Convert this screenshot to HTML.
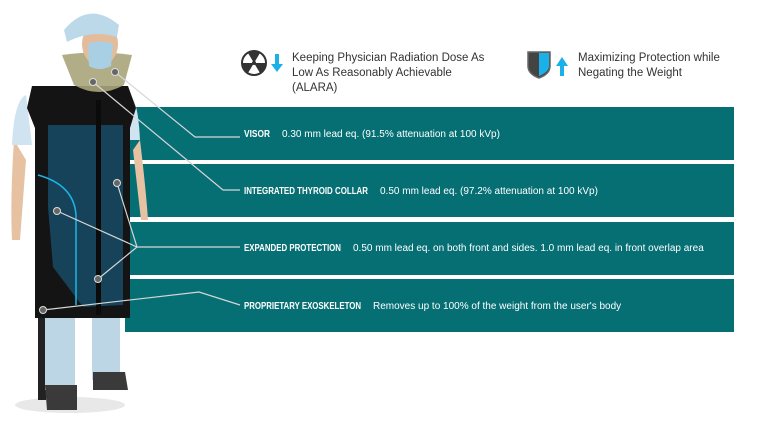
<!DOCTYPE html>
<html><head><meta charset="utf-8"><style>
html,body{margin:0;padding:0;background:#fff;width:768px;height:424px;overflow:hidden}
svg{display:block}
.lab{font-family:"Liberation Sans",sans-serif;font-weight:bold;font-size:10px;fill:#fff}
.desc{font-family:"Liberation Sans",sans-serif;font-size:10px;fill:#fff}
.top{font-family:"Liberation Sans",sans-serif;font-size:11.5px;fill:#333}
</style></head><body>
<svg width="768" height="424" viewBox="0 0 768 424">
<g>
<rect x="125" y="107" width="609" height="53" fill="#056f74"/>
<rect x="125" y="164" width="609" height="53" fill="#056f74"/>
<rect x="125" y="222" width="609" height="53" fill="#056f74"/>
<rect x="125" y="279" width="609" height="53" fill="#056f74"/>
</g>
<g>
<ellipse cx="70" cy="405" rx="55" ry="8" fill="#e8e8e8"/>
<rect x="38" y="300" width="8" height="100" fill="#222"/>
<rect x="45" y="318" width="30" height="72" fill="#bcd6e6"/>
<rect x="92" y="318" width="28" height="62" fill="#bcd6e6"/>
<path d="M45 385h32v25h-30z" fill="#3a3a3a"/>
<path d="M93 372h32l3 18h-35z" fill="#3a3a3a"/>
<path d="M14 140 q-4 60 -2 100 l8 0 l6 -80z" fill="#e6c2a2"/>
<path d="M140 140 q6 50 8 80 l-7 0 l-8 -70z" fill="#e6c2a2"/>
<path d="M26 95 q-12 5 -14 50 l20 0z" fill="#cfe3f0"/>
<path d="M130 95 q8 5 10 45 l-14 0z" fill="#cfe3f0"/>
<path d="M32 86 l96 0 l8 22 l-6 20 l0 190 l-95 0 l0 -190 l-8 -20z" fill="#141414"/>
<path d="M48 125 l75 0 l0 180 l-40 2 l-30 -40 l-5 -60z" fill="#16435a"/>
<path d="M38 175 q36 10 38 40 l0 90" stroke="#1bb6e8" stroke-width="1.5" fill="none"/>
<rect x="96" y="100" width="5" height="215" fill="#0b0b0b"/>
<path d="M62 55 q35 -5 70 0 l-8 30 q-25 14 -50 0z" fill="#a9a57a" opacity="0.9"/>
<ellipse cx="100" cy="44" rx="18" ry="22" fill="#e3bd9b"/>
<path d="M64 30 q25 -30 55 -5 l-2 12 q-25 -8 -50 5z" fill="#bcd9ea"/>
<path d="M88 44 q12 -5 25 0 l-2 22 q-12 6 -22 0z" fill="#a9cfe4"/>
</g>
<g stroke="#d6d6d6" stroke-width="1.2" fill="none">
<polyline points="115,72 195,137 240,137"/>
<polyline points="93,82 223,190 240,190"/>
<polyline points="57,211 137,247 240,247"/>
<polyline points="117,183 137,247"/>
<polyline points="98,279 137,247"/>
<polyline points="43,310 199,292 240,305"/>
</g>
<g fill="#666" stroke="#ddd" stroke-width="1">
<circle cx="115" cy="72" r="3.5"/><circle cx="93" cy="82" r="3.5"/>
<circle cx="57" cy="211" r="3.5"/><circle cx="117" cy="183" r="3.5"/>
<circle cx="98" cy="279" r="3.5"/><circle cx="43" cy="310" r="3.5"/>
</g>
<text class="lab" x="244" y="137" textLength="26" lengthAdjust="spacingAndGlyphs">VISOR</text>
<text class="desc" x="282" y="137">0.30 mm lead eq. (91.5% attenuation at 100 kVp)</text>
<text class="lab" x="244" y="194" textLength="124" lengthAdjust="spacingAndGlyphs">INTEGRATED THYROID COLLAR</text>
<text class="desc" x="380" y="194">0.50 mm lead eq. (97.2% attenuation at 100 kVp)</text>
<text class="lab" x="244" y="251" textLength="97" lengthAdjust="spacingAndGlyphs">EXPANDED PROTECTION</text>
<text class="desc" x="353" y="251">0.50 mm lead eq. on both front and sides. 1.0 mm lead eq. in front overlap area</text>
<text class="lab" x="244" y="309" textLength="117" lengthAdjust="spacingAndGlyphs">PROPRIETARY EXOSKELETON</text>
<text class="desc" x="373" y="309">Removes up to 100% of the weight from the user's body</text>
<g>
<circle cx="254" cy="63" r="12" fill="#fff" stroke="#333" stroke-width="2"/>
<path d="M254 63 L248 53 A12 12 0 0 1 260 53Z M254 63 L266 63 A12 12 0 0 1 260 73Z M254 63 L248 73 A12 12 0 0 1 242 63Z" fill="#333"/>
<circle cx="254" cy="63" r="2" fill="#333"/>
<path d="M275 54v10h-4l6 8 6-8h-4v-10z" fill="#1ab0e8"/>
</g>
<text class="top" x="292" y="61">Keeping Physician Radiation Dose As</text>
<text class="top" x="292" y="76">Low As Reasonably Achievable</text>
<text class="top" x="292" y="91">(ALARA)</text>
<g>
<path d="M528 52 h22 v14 q0 8 -11 12 q-11 -4 -11 -12z" fill="#444" stroke="#666" stroke-width="1.5"/>
<path d="M539 53 h10 v13 q0 6 -10 10z" fill="#1ab0e8"/>
<path d="M560 76v-10h-4l6-9 6 9h-4v10z" fill="#1ab0e8"/>
</g>
<text class="top" x="578" y="61">Maximizing Protection while</text>
<text class="top" x="578" y="76">Negating the Weight</text>
</svg>
</body></html>
